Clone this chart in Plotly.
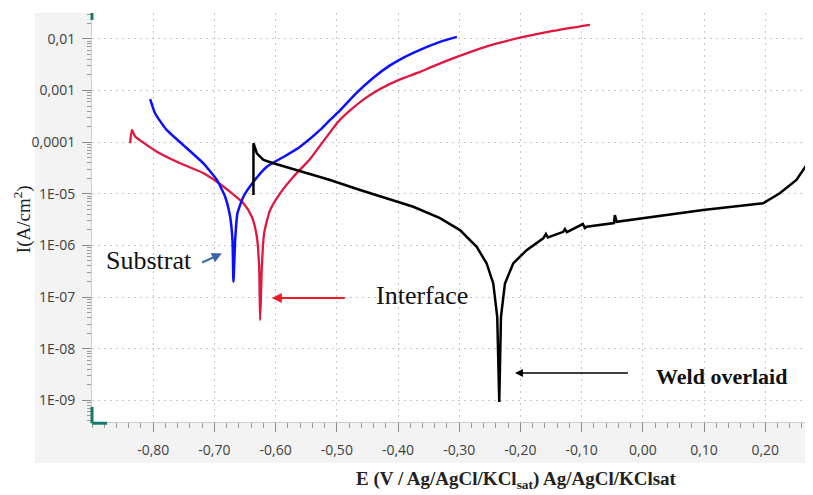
import plotly.graph_objects as go

# ---- data (E in V, I in A/cm2) ----
substrat_E = [-0.805, -0.797, -0.778, -0.745, -0.718, -0.696, -0.6825, -0.6743, -0.6705, -0.6689,
              -0.6661, -0.6624, -0.6526, -0.6362, -0.6144, -0.5817, -0.5600, -0.5273, -0.5110, -0.4947,
              -0.4686, -0.4408, -0.4131, -0.3886, -0.3641, -0.3314, -0.3038]
substrat_I = [6.78e-4, 3.62e-4, 1.72e-4, 7.6e-5, 3.89e-5, 1.85e-5, 8.75e-6, 3.58e-6, 1.26e-6, 1.97e-7,
              1.26e-6, 4.17e-6, 8.75e-6, 1.7e-5, 3.34e-5, 5.63e-5, 8.17e-5, 1.72e-4, 2.69e-4, 4.11e-4,
              8.77e-4, 1.75e-3, 3.06e-3, 4.48e-3, 6.12e-3, 8.75e-3, 1.09e-2]

interface_E = [-0.8376, -0.8348, -0.8294, -0.8184, -0.7940, -0.7559, -0.7179, -0.6960, -0.6743, -0.6526,
               -0.6389, -0.6307, -0.6269, -0.6253, -0.6225, -0.6188, -0.6090, -0.5927, -0.5709, -0.5437,
               -0.5164, -0.4980, -0.4784, -0.4539, -0.4294, -0.3967, -0.3641, -0.3429, -0.3102, -0.2547,
               -0.2008, -0.1469, -0.0865]
interface_I = [9.5e-5, 1.72e-4, 1.28e-4, 1.02e-4, 6.53e-5, 3.89e-5, 2.49e-5, 1.71e-5, 1.09e-5, 6.52e-6,
               3.58e-6, 1.47e-6, 3.84e-7, 3.56e-8, 3.84e-7, 1.71e-6, 4.83e-6, 1.02e-5, 2.14e-5, 4.71e-5,
               1.28e-4, 2.46e-4, 4.11e-4, 7.02e-4, 1.07e-3, 1.64e-3, 2.29e-3, 2.93e-3, 4.19e-3, 7.16e-3,
               1.05e-2, 1.43e-2, 1.87e-2]

weld_E = [-0.6362, -0.6362, -0.6307, -0.6199, -0.6036, -0.5546, -0.5110, -0.4620, -0.4294, -0.3750,
          -0.3314, -0.2988, -0.2715, -0.2552, -0.2444, -0.2379, -0.2346, -0.2318, -0.2253, -0.2118,
          -0.1899, -0.1628, -0.1584, -0.1551, -0.1301, -0.1273, -0.1241, -0.0980, -0.0947, -0.0919,
          -0.0473, -0.0457, -0.0429, 0.0168, 0.0984, 0.1964, 0.2237, 0.2509, 0.2699, 0.2754, 0.2780]
weld_I = [9.44e-6, 9.5e-5, 6.08e-5, 4.51e-5, 3.89e-5, 2.67e-5, 1.85e-5, 1.18e-5, 9.04e-6, 5.60e-6,
          3.38e-6, 1.98e-6, 9.38e-7, 4.47e-7, 1.83e-7, 4.12e-8, 9.27e-10, 4.12e-8, 1.83e-7, 4.47e-7,
          8.1e-7, 1.37e-6, 1.66e-6, 1.42e-6, 1.83e-6, 2.07e-6, 1.81e-6, 2.59e-6, 2.16e-6, 2.29e-6,
          2.70e-6, 3.86e-6, 2.86e-6, 3.58e-6, 4.83e-6, 6.52e-6, 1.02e-5, 1.85e-5, 3.99e-5, 2.88e-5, 3.34e-5]

x_tickvals = [-0.8, -0.7, -0.6, -0.5, -0.4, -0.3, -0.2, -0.1, 0.0, 0.1, 0.2]
x_ticktext = ["-0,80", "-0,70", "-0,60", "-0,50", "-0,40", "-0,30", "-0,20", "-0,10", "0,00", "0,10", "0,20"]
y_tickvals = [1e-9, 1e-8, 1e-7, 1e-6, 1e-5, 1e-4, 1e-3, 1e-2]
y_ticktext = ["1E-09", "1E-08", "1E-07", "1E-06", "1E-05", "0,0001", "0,001", "0,01"]

fig = go.Figure()
fig.add_trace(go.Scatter(x=interface_E, y=interface_I, mode="lines", line_shape="spline",
                         line=dict(color="#e0173f", width=2.3, smoothing=0.6), name="Interface"))
fig.add_trace(go.Scatter(x=substrat_E, y=substrat_I, mode="lines", line_shape="spline",
                         line=dict(color="#0a10ff", width=2.5, smoothing=0.5), name="Substrat"))
fig.add_trace(go.Scatter(x=weld_E, y=weld_I, mode="lines",
                         line=dict(color="#000000", width=2.5), name="Weld overlaid"))

minor_y = [k * 10.0 ** e for e in range(-10, -1) for k in range(2, 10)]

tickfont = dict(family="Open Sans, Noto Sans, sans-serif", size=14, color="#404040")
# page body adds an 8px margin, so the figure is sized/offset to land on the reference pixels
fig.update_layout(
    width=805, height=487,
    margin=dict(l=84, r=0, t=5, b=73),
    paper_bgcolor="white", plot_bgcolor="white",
    showlegend=False,
    xaxis=dict(range=[-0.90, 0.278], tickvals=x_tickvals, ticktext=x_ticktext, automargin=False,
               ticks="outside", ticklen=9, tickcolor="#8a8a8a", tickfont=tickfont,
               ticklabelstandoff=6,
               showgrid=True, gridcolor="#c9c9c9", griddash="2px,4px", gridwidth=1,
               showline=True, linecolor="#cfcfcf", linewidth=1, zeroline=False,
               minor=dict(dtick=0.02, ticks="outside", ticklen=5, tickcolor="#9a9a9a", showgrid=False)),
    yaxis=dict(type="log", range=[-9.42, -1.50], tickvals=y_tickvals, ticktext=y_ticktext, automargin=False,
               ticks="outside", ticklen=9, tickcolor="#8a8a8a", tickfont=tickfont,
               ticklabelstandoff=4,
               showgrid=True, gridcolor="#c9c9c9", griddash="2px,4px", gridwidth=1,
               showline=True, linecolor="#cfcfcf", linewidth=1, zeroline=False,
               minor=dict(tickvals=minor_y, ticks="outside", ticklen=4, tickcolor="#9a9a9a", showgrid=False)),
)

# grey axis label background strips
fig.add_shape(type="rect", xref="paper", yref="paper", x0=-0.079, x1=0, y0=-0.1, y1=1,
              fillcolor="#f3f3f3", line_width=0, layer="below")
fig.add_shape(type="rect", xref="paper", yref="paper", x0=-0.079, x1=1.0, y0=-0.1, y1=0,
              fillcolor="#f3f3f3", line_width=0, layer="below")
# teal axis markers
teal = "#17786d"
fig.add_shape(type="line", xref="paper", yref="paper", x0=0, x1=0, y0=0.983, y1=1.0,
              line=dict(color=teal, width=3))
fig.add_shape(type="line", xref="paper", yref="paper", x0=0, x1=0, y0=-0.003, y1=0.037,
              line=dict(color=teal, width=3))
fig.add_shape(type="line", xref="paper", yref="paper", x0=0, x1=0.021, y0=-0.003, y1=-0.003,
              line=dict(color=teal, width=3))

serif = "Liberation Serif, Times New Roman, serif"
# arrows
fig.add_annotation(x=-0.6878, y=-6.156, ax=-0.7233, ay=-6.349, xref="x", yref="y", axref="x", ayref="y",
                   text=" ", showarrow=True, arrowhead=2, arrowsize=1, arrowwidth=2, arrowcolor="#3d66aa",
                   font=dict(size=2))
fig.add_annotation(x=-0.6062, y=-7.017, ax=-0.4838, ay=-7.017, xref="x", yref="y", axref="x", ayref="y",
                   text=" ", showarrow=True, arrowhead=2, arrowsize=1, arrowwidth=2, arrowcolor="#ee1c24",
                   font=dict(size=2))
fig.add_annotation(x=-0.2090, y=-8.471, ax=-0.0212, ay=-8.471, xref="x", yref="y", axref="x", ayref="y",
                   text=" ", showarrow=True, arrowhead=2, arrowsize=1, arrowwidth=1.6, arrowcolor="#000000",
                   font=dict(size=2))
# labels
fig.add_annotation(x=-0.8065, y=-6.285, xref="x", yref="y", text="Substrat", showarrow=False,
                   xanchor="center", yanchor="middle",
                   font=dict(family=serif, size=26, color="#111111"))
fig.add_annotation(x=-0.3613, y=-6.964, xref="x", yref="y", text="Interface", showarrow=False,
                   xanchor="center", yanchor="middle",
                   font=dict(family=serif, size=26, color="#111111"))
fig.add_annotation(x=0.1285, y=-8.535, xref="x", yref="y", text="<b>Weld overlaid</b>", showarrow=False,
                   xanchor="center", yanchor="middle",
                   font=dict(family=serif, size=22, color="#111111"))
# axis titles
fig.add_annotation(x=-0.097, y=0.496, xref="paper", yref="paper", text="I(A/cm<sup>2</sup>)",
                   xanchor="center", yanchor="middle",
                   textangle=-90, showarrow=False, font=dict(family=serif, size=19, color="#222222"))
fig.add_annotation(x=0.589, y=-0.142, xref="paper", yref="paper",
                   text="<b>E (V / Ag/AgCl/KCl<sub>sat</sub>) Ag/AgCl/KClsat</b>",
                   xanchor="center", yanchor="middle",
                   showarrow=False, font=dict(family=serif, size=19, color="#222222"))

fig.write_html("out.html")
